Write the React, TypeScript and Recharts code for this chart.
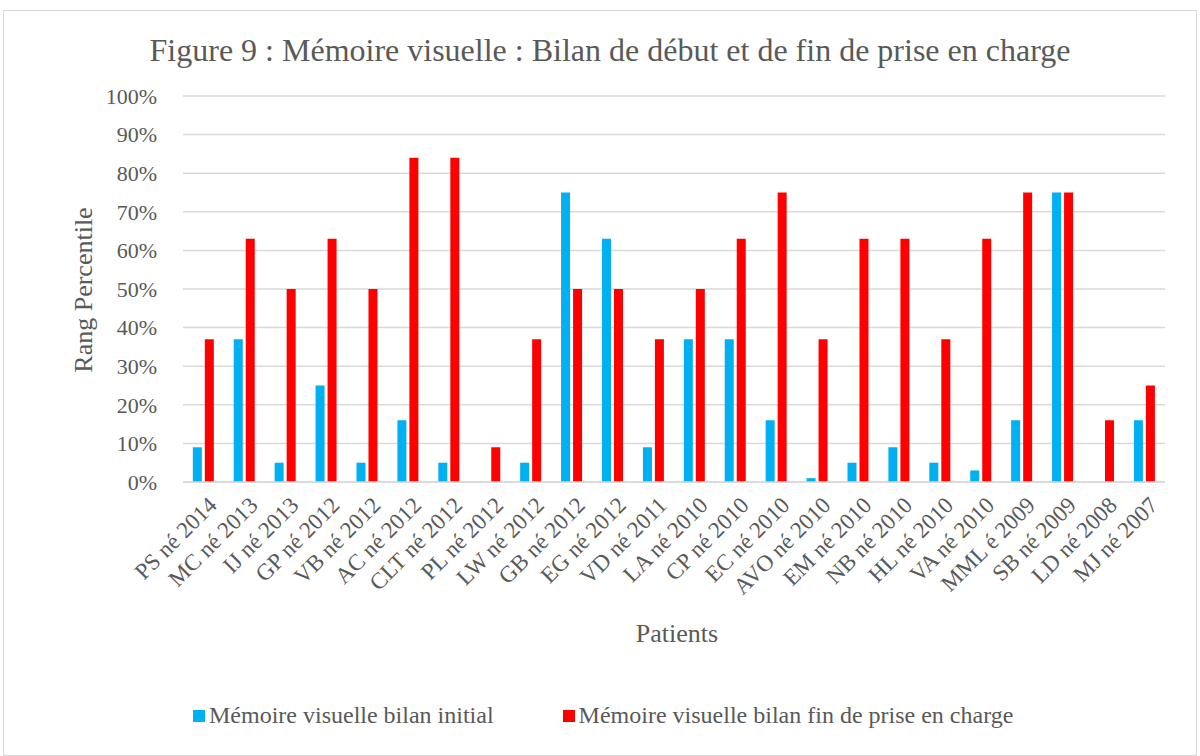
import { BarChart, Bar, XAxis, YAxis, CartesianGrid } from 'recharts';

const patients = [
  'PS né 2014', 'MC né 2013', 'IJ né 2013', 'GP né 2012', 'VB né 2012', 'AC né 2012',
  'CLT né 2012', 'PL né 2012', 'LW né 2012', 'GB né 2012', 'EG né 2012', 'VD né 2011',
  'LA né 2010', 'CP né 2010', 'EC né 2010', 'AVO né 2010', 'EM né 2010', 'NB né 2010',
  'HL né 2010', 'VA né 2010', 'MML é 2009', 'SB né 2009', 'LD né 2008', 'MJ né 2007',
];
const bilanInitial = [9, 37, 5, 25, 5, 16, 5, 0, 5, 75, 63, 9, 37, 37, 16, 1, 5, 9, 5, 3, 16, 75, 0, 16];
const bilanFin = [37, 63, 50, 63, 50, 84, 84, 9, 37, 50, 50, 37, 50, 63, 75, 37, 63, 63, 37, 63, 75, 75, 16, 25];
const yTicks = [0, 10, 20, 30, 40, 50, 60, 70, 80, 90, 100];

const series = [
  { key: 'initial', name: 'Mémoire visuelle bilan initial', color: '#00B0F0' },
  { key: 'fin', name: 'Mémoire visuelle bilan fin de prise en charge', color: '#FF0000' },
];

const FONT = '"Liberation Serif", "Times New Roman", serif';
const TEXT = '#595959';

const data = patients.map((patient, i) => ({
  patient,
  initial: bilanInitial[i],
  fin: bilanFin[i],
}));

// rotated category labels, anchored at their end like Excel does
const PatientTick = ({ x, y, payload }: { x?: number; y?: number; payload?: { value: string } }) => (
  <g transform={`translate(${(x ?? 0) + 9},${(y ?? 0) + 11})`}>
    <text
      textAnchor="end"
      dy="0.35em"
      transform="rotate(-45)"
      fontSize={23}
      fontFamily={FONT}
      fill={TEXT}
    >
      {payload?.value}
    </text>
  </g>
);

export default function App() {
  return (
    <div style={{ position: 'absolute', left: 0, top: 0, width: 1200, height: 756, background: '#fff', fontFamily: FONT }}>
      <div style={{ position: 'absolute', left: 3, top: 10, width: 1194, height: 746, border: '1px solid #d9d9d9', boxSizing: 'border-box' }} />
      <div style={{ position: 'absolute', left: 0, width: 1220, top: 32, textAlign: 'center', fontSize: 32, color: TEXT, whiteSpace: 'nowrap' }}>
        Figure 9 : Mémoire visuelle : Bilan de début et de fin de prise en charge
      </div>
      <div
        style={{
          position: 'absolute', left: 84, top: 290, fontSize: 26, color: TEXT, whiteSpace: 'nowrap',
          transform: 'translate(-50%, -50%) rotate(-90deg)',
        }}
      >
        Rang Percentile
      </div>
      <div style={{ position: 'absolute', left: 677, top: 634, fontSize: 26, color: TEXT, transform: 'translate(-50%, -50%)' }}>
        Patients
      </div>
      <div style={{ position: 'absolute', left: 0, top: 0 }}>
        <BarChart
          width={1200}
          height={756}
          data={data}
          margin={{ top: 96, right: 35, bottom: 174, left: 123 }}
          barCategoryGap="24%"
          barGap={3}
        >
          <CartesianGrid vertical={false} stroke="#d9d9d9" strokeWidth={1.5} />
          <XAxis
            dataKey="patient"
            interval={0}
            height={100}
            tickLine={false}
            axisLine={{ stroke: '#d9d9d9', strokeWidth: 1.5 }}
            tick={<PatientTick />}
          />
          <YAxis
            domain={[0, 100]}
            ticks={yTicks}
            tickFormatter={(v: number) => `${v}%`}
            axisLine={false}
            tickLine={false}
            width={60}
            tickMargin={20}
            tick={{ fontSize: 22, fontFamily: FONT, fill: TEXT }}
          />
          {series.map((s) => (
            <Bar key={s.key} dataKey={s.key} name={s.name} fill={s.color} isAnimationActive={false} />
          ))}
        </BarChart>
      </div>
      <div style={{ position: 'absolute', top: 702, left: 193, display: 'flex', fontSize: 24, color: TEXT, whiteSpace: 'nowrap' }}>
        {series.map((s, i) => (
          <div key={s.key} style={{ display: 'flex', alignItems: 'center', marginRight: i === 0 ? 69 : 0 }}>
            <span style={{ display: 'inline-block', width: 12, height: 12, background: s.color, marginRight: 4 }} />
            {s.name}
          </div>
        ))}
      </div>
    </div>
  );
}
